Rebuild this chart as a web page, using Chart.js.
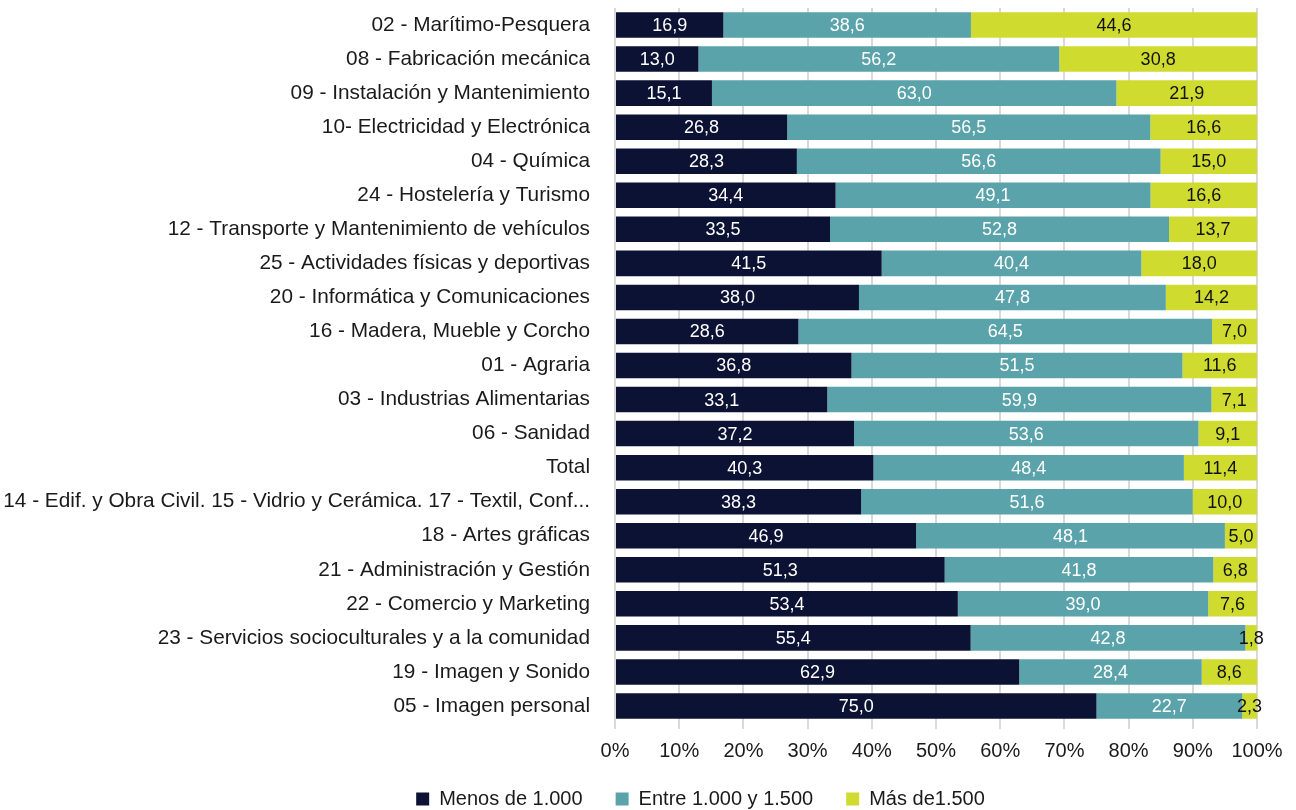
<!DOCTYPE html>
<html>
<head>
<meta charset="utf-8">
<script src="https://cdn.jsdelivr.net/npm/chart.js@4"></script>
<style>
  html, body { margin: 0; padding: 0; background: #fff; }
  #wrap { width: 1296px; height: 810px; }
</style>
</head>
<body>
<div id="wrap"><canvas id="c" width="1296" height="810"></canvas></div>
<script>
const categories = [
  '02 - Marítimo-Pesquera',
  '08 - Fabricación mecánica',
  '09 - Instalación y Mantenimiento',
  '10- Electricidad y Electrónica',
  '04 - Química',
  '24 - Hostelería y Turismo',
  '12 - Transporte y Mantenimiento de vehículos',
  '25 - Actividades físicas y deportivas',
  '20 - Informática y Comunicaciones',
  '16 - Madera, Mueble y Corcho',
  '01 - Agraria',
  '03 - Industrias Alimentarias',
  '06 - Sanidad',
  'Total',
  '14 - Edif. y Obra Civil. 15 - Vidrio y Cerámica. 17 - Textil, Conf...',
  '18 - Artes gráficas',
  '21 - Administración y Gestión',
  '22 - Comercio y Marketing',
  '23 - Servicios socioculturales y a la comunidad',
  '19 - Imagen y Sonido',
  '05 - Imagen personal'
]
const menos = [16.9, 13.0, 15.1, 26.8, 28.3, 34.4, 33.5, 41.5, 38.0, 28.6, 36.8, 33.1, 37.2, 40.3, 38.3, 46.9, 51.3, 53.4, 55.4, 62.9, 75.0]
const entre = [38.6, 56.2, 63.0, 56.5, 56.6, 49.1, 52.8, 40.4, 47.8, 64.5, 51.5, 59.9, 53.6, 48.4, 51.6, 48.1, 41.8, 39.0, 42.8, 28.4, 22.7]
const mas = [44.6, 30.8, 21.9, 16.6, 15.0, 16.6, 13.7, 18.0, 14.2, 7.0, 11.6, 7.1, 9.1, 11.4, 10.0, 5.0, 6.8, 7.6, 1.8, 8.6, 2.3]
const seriesNames = ['Menos de 1.000', 'Entre 1.000 y 1.500', 'Más de1.500']
const xTicks = [0, 10, 20, 30, 40, 50, 60, 70, 80, 90, 100]

const FONT = "'Liberation Sans', Arial, sans-serif"
const raw = [menos, entre, mas]
// 100% stacked: share of each row total
const pct = raw.map(s => s.map((v, i) => v / (menos[i] + entre[i] + mas[i]) * 100))

const colors = ['#0c1233', '#5aa3ab', '#cfdb2f']
const labelColors = ['#ffffff', '#ffffff', '#111111']

// small inline value-label plugin
const valueLabels = {
  id: 'valueLabels',
  afterDatasetsDraw(chart) {
    const { ctx } = chart
    ctx.save()
    ctx.font = '18px ' + FONT
    ctx.textAlign = 'center'
    ctx.textBaseline = 'middle'
    chart.data.datasets.forEach((ds, di) => {
      const meta = chart.getDatasetMeta(di)
      meta.data.forEach((bar, i) => {
        ctx.fillStyle = labelColors[di]
        ctx.fillText(raw[di][i].toFixed(1).replace('.', ','), (bar.x + bar.base) / 2, bar.y + 1)
      })
    })
    ctx.restore()
  },
}

// legend sits a bit right of the canvas centre in the original
const legendNudge = {
  id: 'legendNudge',
  afterLayout(chart) {
    const lg = chart.legend
    lg.left += 72
    lg.right += 72
    lg.top -= 5
    lg.bottom -= 5
  },
}

new Chart(document.getElementById('c'), {
  type: 'bar',
  data: {
    labels: categories,
    datasets: seriesNames.map((name, k) => ({
      label: name,
      data: pct[k],
      backgroundColor: colors[k],
      borderWidth: 0,
      categoryPercentage: 1,
      barPercentage: 0.75,
    })),
  },
  options: {
    indexAxis: 'y',
    responsive: false,
    animation: false,
    layout: { padding: { top: 8, left: 0, right: 39, bottom: -14 } },
    scales: {
      x: {
        stacked: true,
        min: 0,
        max: 100,
        afterBuildTicks(scale) {
          scale.ticks = xTicks.map(v => ({ value: v }))
        },
        afterFit(scale) {
          scale.height = 38
        },
        grid: { color: '#d9d9d9', lineWidth: 2, drawTicks: true, tickLength: 6 },
        border: { display: false },
        ticks: {
          padding: 10,
          color: '#1a1a1a',
          font: { family: FONT, size: 20 },
          callback: v => v + '%',
        },
      },
      y: {
        stacked: true,
        afterFit(scale) {
          scale.width = 615
        },
        grid: { color: 'rgba(0,0,0,0)', drawTicks: true, tickLength: 25 },
        border: { display: false },
        ticks: {
          padding: 0,
          autoSkip: false,
          color: '#1a1a1a',
          font: { family: FONT, size: 20.8, lineHeight: 0.7 },
        },
      },
    },
    plugins: {
      legend: {
        position: 'bottom',
        labels: {
          boxWidth: 13,
          boxHeight: 13,
          padding: 33,
          color: '#1a1a1a',
          font: { family: FONT, size: 20 },
        },
      },
      tooltip: { enabled: false },
    },
  },
  plugins: [valueLabels, legendNudge],
})
</script>
</body>
</html>
